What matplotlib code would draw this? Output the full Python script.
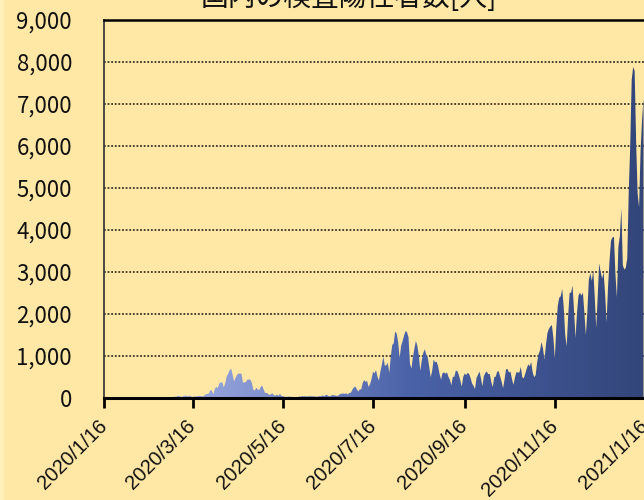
import numpy as np
import pandas as pd
import matplotlib
matplotlib.use("Agg")
import matplotlib.pyplot as plt
import matplotlib.dates as mdates
from matplotlib.colors import LinearSegmentedColormap
from matplotlib.patches import Rectangle

# ---- data: daily positive cases in Japan, starting 2020-01-16 ----
start_date = "2020-01-16"
jan20 = [1, 0, 0, 0, 0, 0, 0, 0, 1, 1, 1, 0, 2, 1, 4, 2]
feb20 = [5, 0, 0, 1, 1, 0, 0, 0, 0, 1, 0, 1, 4, 8, 8, 7, 6, 7, 4, 11,
         12, 10, 5, 12, 14, 21, 18, 18, 13]
mar20 = [17, 15, 20, 33, 33, 57, 47, 34, 22, 59, 51, 57, 40, 61, 37, 15, 44, 38, 39, 53,
         47, 43, 39, 65, 93, 96, 112, 194, 173, 88, 220]
apr20 = [266, 235, 351, 367, 378, 252, 351, 511, 579, 659, 700, 556, 391, 482, 549, 584,
         576, 584, 364, 374, 378, 438, 438, 439, 360, 201, 175, 244, 206, 185]
may20 = [258, 300, 201, 120, 123, 101, 70, 93, 110, 66, 58, 83, 55, 99, 54, 45, 30, 27,
         29, 35, 26, 29, 24, 15, 21, 17, 39, 31, 48, 38, 46]
jun20 = [35, 42, 42, 44, 39, 40, 38, 29, 40, 44, 42, 61, 41, 72, 72, 43, 41, 68, 68, 65,
         55, 48, 76, 95, 107, 105, 100, 110, 85, 124]
jul20 = [125, 195, 250, 274, 209, 153, 207, 201, 355, 429, 383, 408, 262, 333, 451, 621,
         591, 662, 510, 418, 632, 795, 981, 770, 779, 839, 600, 981, 1264, 1301, 1580]
aug20 = [1536, 1331, 958, 1238, 1356, 1485, 1595, 1566, 1444, 817, 700, 975, 1176, 1360,
         1236, 1011, 646, 899, 1072, 1162, 1034, 972, 745, 495, 643, 915, 849, 866, 761,
         574, 436]
sep20 = [591, 610, 578, 612, 506, 435, 304, 509, 501, 651, 643, 555, 426, 268, 498, 582,
         547, 598, 573, 477, 347, 288, 213, 479, 550, 631, 475, 282, 518, 598]
oct20 = [629, 566, 574, 385, 258, 495, 511, 625, 639, 514, 388, 233, 448, 684, 690, 606,
         626, 451, 314, 485, 618, 606, 608, 739, 494, 469, 580, 701, 805, 754, 856]
nov20 = [612, 496, 542, 840, 1046, 1137, 1332, 1176, 915, 1270, 1546, 1646, 1704, 1735,
         1439, 948, 1689, 2201, 2388, 2425, 2596, 2168, 1518, 1228, 1946, 2501, 2508,
         2674, 2068, 1429]
dec20 = [2029, 2433, 2507, 2437, 2510, 2025, 1495, 2056, 2810, 2973, 2788, 3040, 2414,
         1669, 2413, 3205, 3003, 2844, 2992, 2489, 1802, 2642, 3270, 3740, 3826, 3831,
         2947, 2395, 3604, 3852, 4520]
jan21 = [3160, 3058, 3100, 3325, 4915, 6001, 7570, 7882, 7790, 6097, 4875, 4538, 5874,
         6605, 7133]

tick_dates = ["2020-01-16", "2020-03-16", "2020-05-16", "2020-07-16",
              "2020-09-16", "2020-11-16", "2021-01-16"]
tick_labels = ["2020/1/16", "2020/3/16", "2020/5/16", "2020/7/16",
               "2020/9/16", "2020/11/16", "2021/1/16"]
y_ticks = [0, 1000, 2000, 3000, 4000, 5000, 6000, 7000, 8000, 9000]
y_labels = ["0", "1,000", "2,000", "3,000", "4,000", "5,000", "6,000", "7,000",
            "8,000", "9,000"]
title = "国内の検査陽性者数[人]"

values = np.array(jan20 + feb20 + mar20 + apr20 + may20 + jun20 + jul20 + aug20 +
                  sep20 + oct20 + nov20 + dec20 + jan21, dtype=float)
dates = pd.date_range(start_date, periods=len(values), freq="D")

BG = "#FFE8A6"
fig = plt.figure(figsize=(6.44, 5.0), dpi=100, facecolor=BG)
fig.patches.append(Rectangle((0, 0), 4 / 644, 1, transform=fig.transFigure,
                             facecolor="#FFF1B8", edgecolor="none", zorder=0))
ax = fig.add_axes([104 / 644, 102 / 500, 541 / 644, 378 / 500])
ax.set_facecolor(BG)

x = mdates.date2num(dates)
x0 = mdates.date2num(pd.Timestamp(tick_dates[0]))
x1 = mdates.date2num(pd.Timestamp(tick_dates[-1]))

poly = ax.fill_between(x, values, 0, facecolor="none", edgecolor="none", lw=0)
cmap = LinearSegmentedColormap.from_list(
    "grad", [(0.0, "#B6C2EC"), (0.233, "#8C9CD6"), (0.567, "#4A62A8"), (1.0, "#33467A")])
grad = np.linspace(0, 1, 600).reshape(1, -1)
im = ax.imshow(grad, extent=[x0, x1, 0, 9000], aspect="auto", cmap=cmap,
               origin="lower", zorder=2, interpolation="bilinear")
im.set_clip_path(poly.get_paths()[0], transform=ax.transData)

ax.set_xlim(x0, x1)
ax.set_ylim(0, 9000)

ax.set_axisbelow(True)
ax.yaxis.grid(True, linestyle=(0, (1.0, 1.0)), color="#3A3428", lw=1.3)
ax.xaxis.grid(False)

ax.set_yticks(y_ticks)
ax.set_yticklabels(y_labels, fontsize=16, family=["Noto Sans CJK JP", "DejaVu Sans"],
                   color="#111111")
ax.tick_params(axis="y", length=0, pad=23)

ax.set_xticks([mdates.date2num(pd.Timestamp(d)) for d in tick_dates])
ax.set_xticklabels(tick_labels, fontsize=14.5, family="Liberation Sans", color="#111111",
                   rotation=45, ha="right", va="center", rotation_mode="anchor")
ax.tick_params(axis="x", length=7, width=2, color="black", pad=11)

ax.spines["right"].set_visible(False)
ax.spines["bottom"].set_linewidth(2.2)
ax.spines["bottom"].set_color("black")
ax.spines["top"].set_linewidth(1.8)
ax.spines["top"].set_color("black")
ax.spines["left"].set_linewidth(1.3)
ax.spines["left"].set_color("#3C3C3C")

fig.text(349 / 644, 1 - 6 / 500, title, fontsize=20,
         family=["Noto Sans CJK JP", "DejaVu Sans"], ha="center", va="baseline",
         color="#111111")

fig.savefig("out.png", dpi=100, facecolor=BG)
